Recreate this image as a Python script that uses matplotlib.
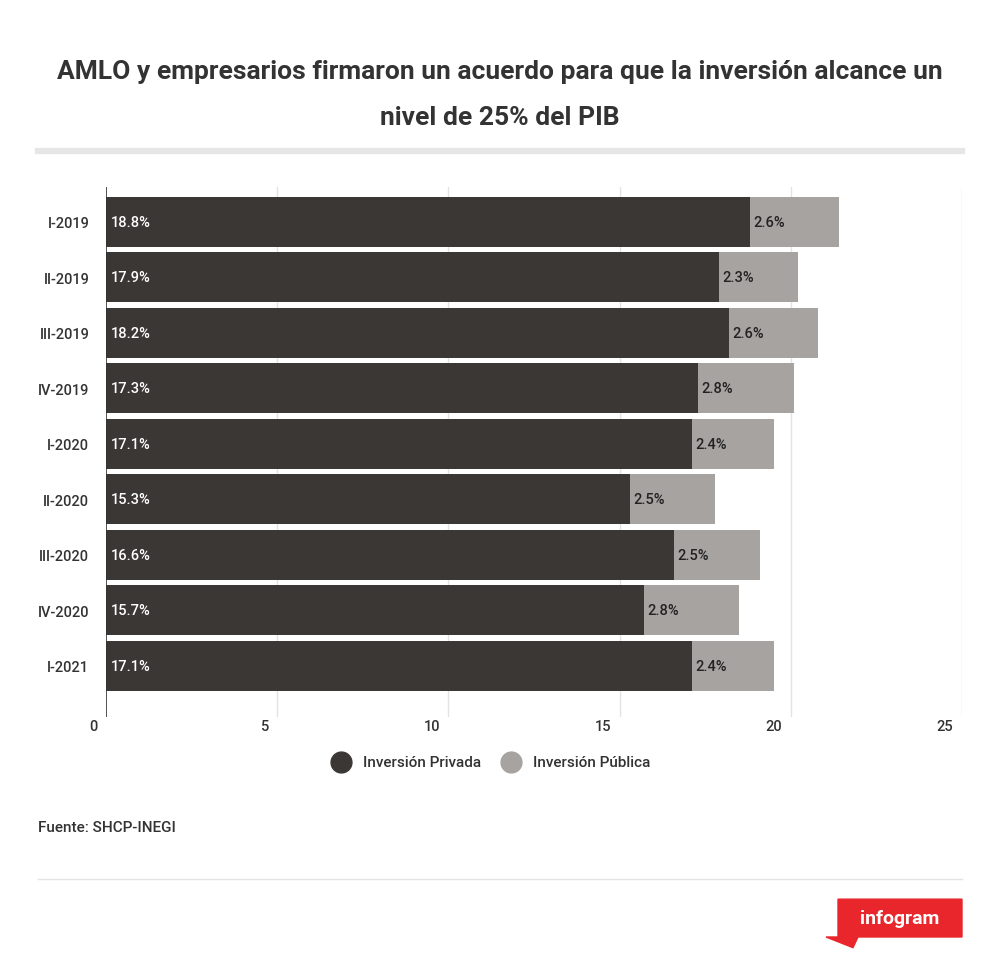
import matplotlib.pyplot as plt
import matplotlib.transforms as mtransforms
from matplotlib.patches import Polygon

plt.rcParams['font.family'] = ['Roboto', 'DejaVu Sans']

periodos = ['I-2019', 'II-2019', 'III-2019', 'IV-2019', 'I-2020',
            'II-2020', 'III-2020', 'IV-2020', 'I-2021']
privada = [18.8, 17.9, 18.2, 17.3, 17.1, 15.3, 16.6, 15.7, 17.1]
publica = [2.6, 2.3, 2.6, 2.8, 2.4, 2.5, 2.5, 2.8, 2.4]
ticks = [0, 5, 10, 15, 20, 25]

c_priv = '#3a3734'
c_pub = '#a7a3a1'

fig = plt.figure(figsize=(10, 9.7), dpi=100)
ax = fig.add_axes([0.106, 0.260, 0.856, 0.546])

y = list(range(len(periodos)))
ax.barh(y, privada, height=0.9, color=c_priv, zorder=3)
ax.barh(y, publica, left=privada, height=0.9, color=c_pub, zorder=3)
for i in y:
    ax.text(0.15, i, f'{privada[i]}%', color='white', va='center', ha='left',
            fontsize=10.5, fontweight='medium', zorder=4)
    ax.text(privada[i] + 0.1, i, f'{publica[i]}%', color='#222222', va='center', ha='left',
            fontsize=10.5, fontweight='medium', zorder=4)

ax.set_xlim(0, 25)
ax.set_ylim(8.92, -0.62)
ax.set_yticks(y)
ax.set_yticklabels(periodos, fontsize=10.5, color='#333333', fontweight='medium')
ax.tick_params(axis='y', length=0, pad=12)
ax.set_xticks([])
for t in ticks[1:]:
    ax.axvline(t, color='#e3e3e3', lw=1, zorder=1)
ax.axvline(0, color='#333333', lw=1.2, zorder=5)
trans = mtransforms.blended_transform_factory(ax.transData, ax.transAxes)
for t in ticks:
    ax.text(t - 0.25, -0.005, str(t), transform=trans, ha='right', va='top',
            fontsize=10.5, fontweight='medium', color='#333333')
for s in ax.spines.values():
    s.set_visible(False)

fig.text(0.5, 0.926, 'AMLO y empresarios firmaron un acuerdo para que la inversión alcance un',
         ha='center', va='center', fontsize=19, fontweight='bold', color='#333333')
fig.text(0.5, 0.878, 'nivel de 25% del PIB', ha='center', va='center', fontsize=19,
         fontweight='bold', color='#333333')
fig.add_artist(plt.Line2D([0.038, 0.962], [0.843, 0.843], color='#e6e6e6', lw=4.5))

# leyenda
fig.add_artist(plt.Line2D([0.341], [0.213], marker='o', ms=15, color=c_priv))
fig.text(0.363, 0.213, 'Inversión Privada', va='center', fontsize=11, fontweight='medium', color='#333333')
fig.add_artist(plt.Line2D([0.511], [0.213], marker='o', ms=15, color=c_pub))
fig.text(0.533, 0.213, 'Inversión Pública', va='center', fontsize=11, fontweight='medium', color='#333333')

fig.text(0.038, 0.146, 'Fuente: SHCP-INEGI', va='center', fontsize=11, fontweight='medium', color='#333333')
fig.add_artist(plt.Line2D([0.038, 0.962], [0.093, 0.093], color='#e3e3e3', lw=1))

logo = Polygon([[0.838, 0.072], [0.962, 0.072], [0.962, 0.033], [0.858, 0.033],
                [0.853, 0.022], [0.826, 0.033], [0.838, 0.033]],
               closed=True, color='#e8262b', transform=fig.transFigure)
fig.add_artist(logo)
fig.text(0.9, 0.053, 'infogram', ha='center', va='center', fontsize=14,
         fontweight='bold', color='white')

fig.savefig('out.png', dpi=100, facecolor='white')
